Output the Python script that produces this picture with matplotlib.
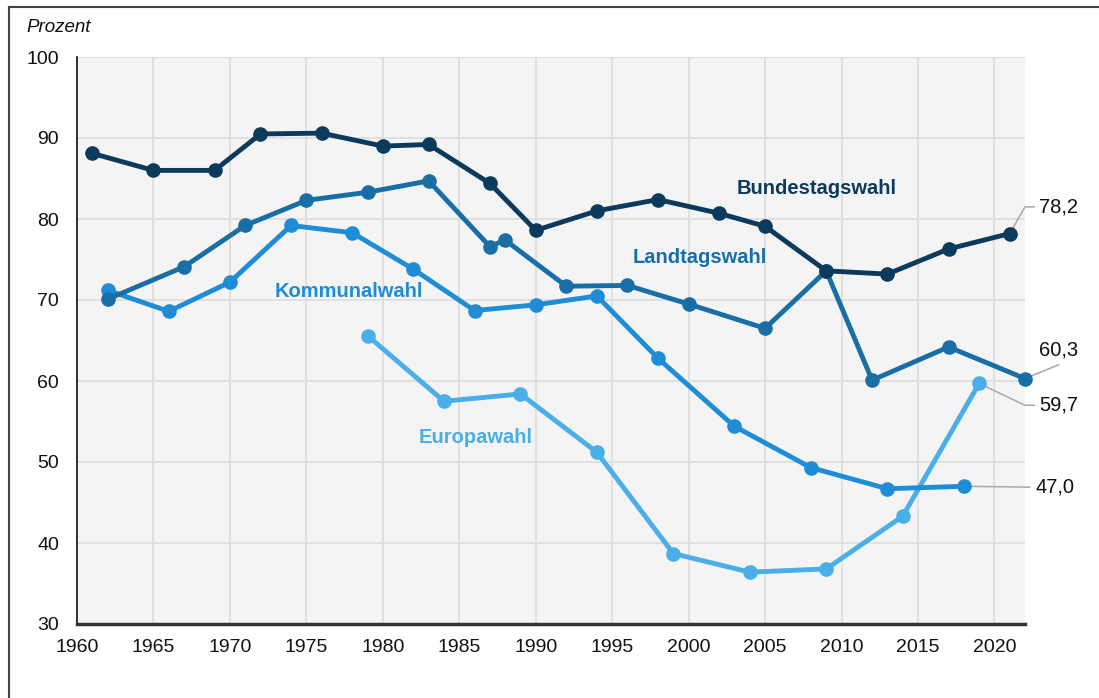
import matplotlib
matplotlib.use("Agg")
import matplotlib.pyplot as plt
from matplotlib.lines import Line2D

plt.rcParams['font.family'] = ['Liberation Sans', 'DejaVu Sans']

# Data
bund_years = [1961, 1965, 1969, 1972, 1976, 1980, 1983, 1987, 1990, 1994, 1998, 2002, 2005, 2009, 2013, 2017, 2021]
bund_vals = [88.1, 86.0, 86.0, 90.5, 90.6, 89.0, 89.2, 84.4, 78.6, 81.0, 82.4, 80.7, 79.1, 73.6, 73.2, 76.3, 78.2]

land_years = [1962, 1967, 1971, 1975, 1979, 1983, 1987, 1988, 1992, 1996, 2000, 2005, 2009, 2012, 2017, 2022]
land_vals = [70.1, 74.1, 79.2, 82.3, 83.3, 84.7, 76.6, 77.4, 71.7, 71.8, 69.5, 66.5, 73.6, 60.1, 64.2, 60.3]

komm_years = [1962, 1966, 1970, 1974, 1978, 1982, 1986, 1990, 1994, 1998, 2003, 2008, 2013, 2018]
komm_vals = [71.2, 68.6, 72.2, 79.2, 78.3, 73.8, 68.7, 69.4, 70.5, 62.8, 54.4, 49.3, 46.7, 47.0]

euro_years = [1979, 1984, 1989, 1994, 1999, 2004, 2009, 2014, 2019]
euro_vals = [65.6, 57.5, 58.4, 51.2, 38.7, 36.4, 36.8, 43.3, 59.7]

xticks = list(range(1960, 2021, 5))
yticks = list(range(30, 101, 10))

c_bund = '#0c3a5c'
c_land = '#1a6ea6'
c_komm = '#1f8cd6'
c_euro = '#4aaee8'

fig = plt.figure(figsize=(10.99, 6.98), dpi=100)
ax = fig.add_axes([77/1099, 1-624/698, (1025-77)/1099, (624-57)/698])
ax.set_facecolor('#f4f4f4')

ax.set_xlim(1960, 2022)
ax.set_ylim(30, 100)
ax.set_xticks(xticks)
ax.set_yticks(yticks)
ax.grid(True, color='#dedede', linewidth=1.3)
ax.set_axisbelow(True)
ax.tick_params(length=0, labelsize=14, colors='#111111')
ax.tick_params(axis='x', pad=11)
ax.tick_params(axis='y', pad=13)
for s in ['top', 'right']:
    ax.spines[s].set_visible(False)
ax.spines['left'].set_color('#111111')
ax.spines['left'].set_linewidth(1.2)
ax.spines['bottom'].set_color('#333333')
ax.spines['bottom'].set_linewidth(2.5)

kw = dict(linewidth=3.5, marker='o', markersize=9.5, solid_joinstyle='round', clip_on=False)
ax.plot(euro_years, euro_vals, color=c_euro, zorder=3, **kw)
ax.plot(komm_years, komm_vals, color=c_komm, zorder=4, **kw)
ax.plot(land_years, land_vals, color=c_land, zorder=5, **kw)
ax.plot(bund_years, bund_vals, color=c_bund, zorder=6, **kw)

# Series labels
ax.text(2008.4, 83.8, 'Bundestagswahl', color=c_bund, fontsize=14.5, fontweight='bold', ha='center', va='center')
ax.text(2000.7, 75.3, 'Landtagswahl', color=c_land, fontsize=14.5, fontweight='bold', ha='center', va='center')
ax.text(1977.8, 71.0, 'Kommunalwahl', color=c_komm, fontsize=14.5, fontweight='bold', ha='center', va='center')
ax.text(1986.1, 53.0, 'Europawahl', color=c_euro, fontsize=14.5, fontweight='bold', ha='center', va='center')

# Value labels with leader lines
lc = '#a8a8a8'
lkw = dict(color=lc, linewidth=1.1, clip_on=False, zorder=2)
ax.plot([bund_years[-1], 2022.0, 2022.6], [bund_vals[-1], 81.5, 81.5], **lkw)
ax.text(2022.9, 81.5, '78,2', fontsize=14.5, color='#111111', ha='left', va='center', clip_on=False)

ax.plot([land_years[-1], 2024.2], [land_vals[-1], 62.0], **lkw)
ax.text(2022.9, 63.8, '60,3', fontsize=14.5, color='#111111', ha='left', va='center', clip_on=False)

ax.plot([euro_years[-1], 2022.0, 2022.6], [euro_vals[-1], 57.0, 57.0], **lkw)
ax.text(2022.9, 57.0, '59,7', fontsize=14.5, color='#111111', ha='left', va='center', clip_on=False)

ax.plot([komm_years[-1], 2022.3], [komm_vals[-1], 46.9], **lkw)
ax.text(2022.7, 46.9, '47,0', fontsize=14.5, color='#111111', ha='left', va='center', clip_on=False)

# "Prozent" label
fig.text(26/1099, 1-28/698, 'Prozent', fontsize=13.5, fontstyle='italic', color='#111111', ha='left', va='center')

# Outer frame (left and top edges)
fig.add_artist(Line2D([9/1099, 9/1099], [0, 1-7/698], color='#444444', linewidth=1.5, transform=fig.transFigure))
fig.add_artist(Line2D([9/1099, 1], [1-7/698, 1-7/698], color='#444444', linewidth=1.5, transform=fig.transFigure))

fig.savefig('out.png', dpi=100)
